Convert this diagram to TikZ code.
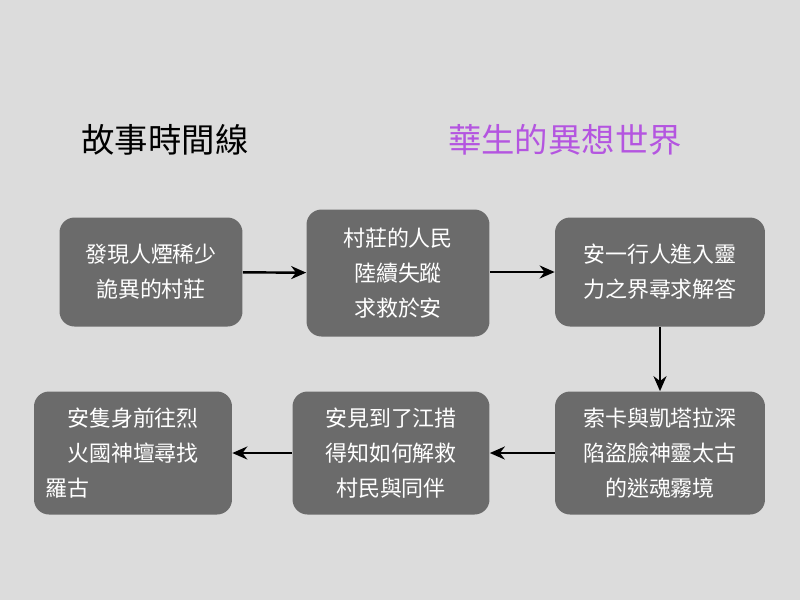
\documentclass[tikz,border=0pt]{standalone}
\usepackage{fontspec}
\newfontfamily\cjk{Noto Sans CJK TC}
\usetikzlibrary{positioning,arrows.meta}
\definecolor{bggray}{HTML}{DCDCDC}
\definecolor{boxgray}{HTML}{6B6B6B}
\definecolor{titlepurple}{HTML}{B455E0}
\tikzset{
    storybox/.style={draw=none, fill=boxgray, rounded corners=3mm, text=white,
        font=\cjk\fontsize{12.5}{20}\selectfont, align=center, inner sep=0pt},
    flow/.style={-{Stealth[length=3mm,width=2.6mm]}, line width=1.4pt}
}
\begin{document}
\begin{tikzpicture}[x=0.02cm, y=-0.02cm]
    \fill[bggray] (0,0) rectangle (800,600);
    \useasboundingbox (0,0) rectangle (800,600);

    \node[font=\cjk\fontsize{19}{22}\selectfont] (title) at (165,140) {故事時間線};
    \node[font=\cjk\fontsize{19}{22}\selectfont, text=titlepurple] (brand) at (565,140) {華生的異想世界};

    \node[storybox, minimum width=3.66cm, minimum height=2.18cm] (s1) at (151,272) {發現人煙稀少\\詭異的村莊};
    \node[storybox, minimum width=3.66cm, minimum height=2.54cm] (s2) at (398,273) {村莊的人民\\陸續失蹤\\求救於安};
    \node[storybox, minimum width=4.2cm, minimum height=2.18cm] (s3) at (660,272) {安一行人進入靈\\力之界尋求解答};
    \node[storybox, minimum width=4.2cm, minimum height=2.46cm] (s4) at (660,453) {索卡與凱塔拉深\\陷盜臉神靈太古\\的迷魂霧境};
    \node[storybox, minimum width=3.94cm, minimum height=2.46cm] (s5) at (391,453) {安見到了江措\\得知如何解救\\村民與同伴};
    \node[storybox, minimum width=3.96cm, minimum height=2.46cm] (s6) at (133,453) {安隻身前往烈\\火國神壇尋找\\羅古\hspace*{6em}};

    \draw[flow] (s1) -- (s2);
    \draw[flow] (s2.east |- s3) -- (s3);
    \draw[flow] (s3) -- (s4);
    \draw[flow] (s4) -- (s5);
    \draw[flow] (s5) -- (s6);
\end{tikzpicture}
\end{document}
